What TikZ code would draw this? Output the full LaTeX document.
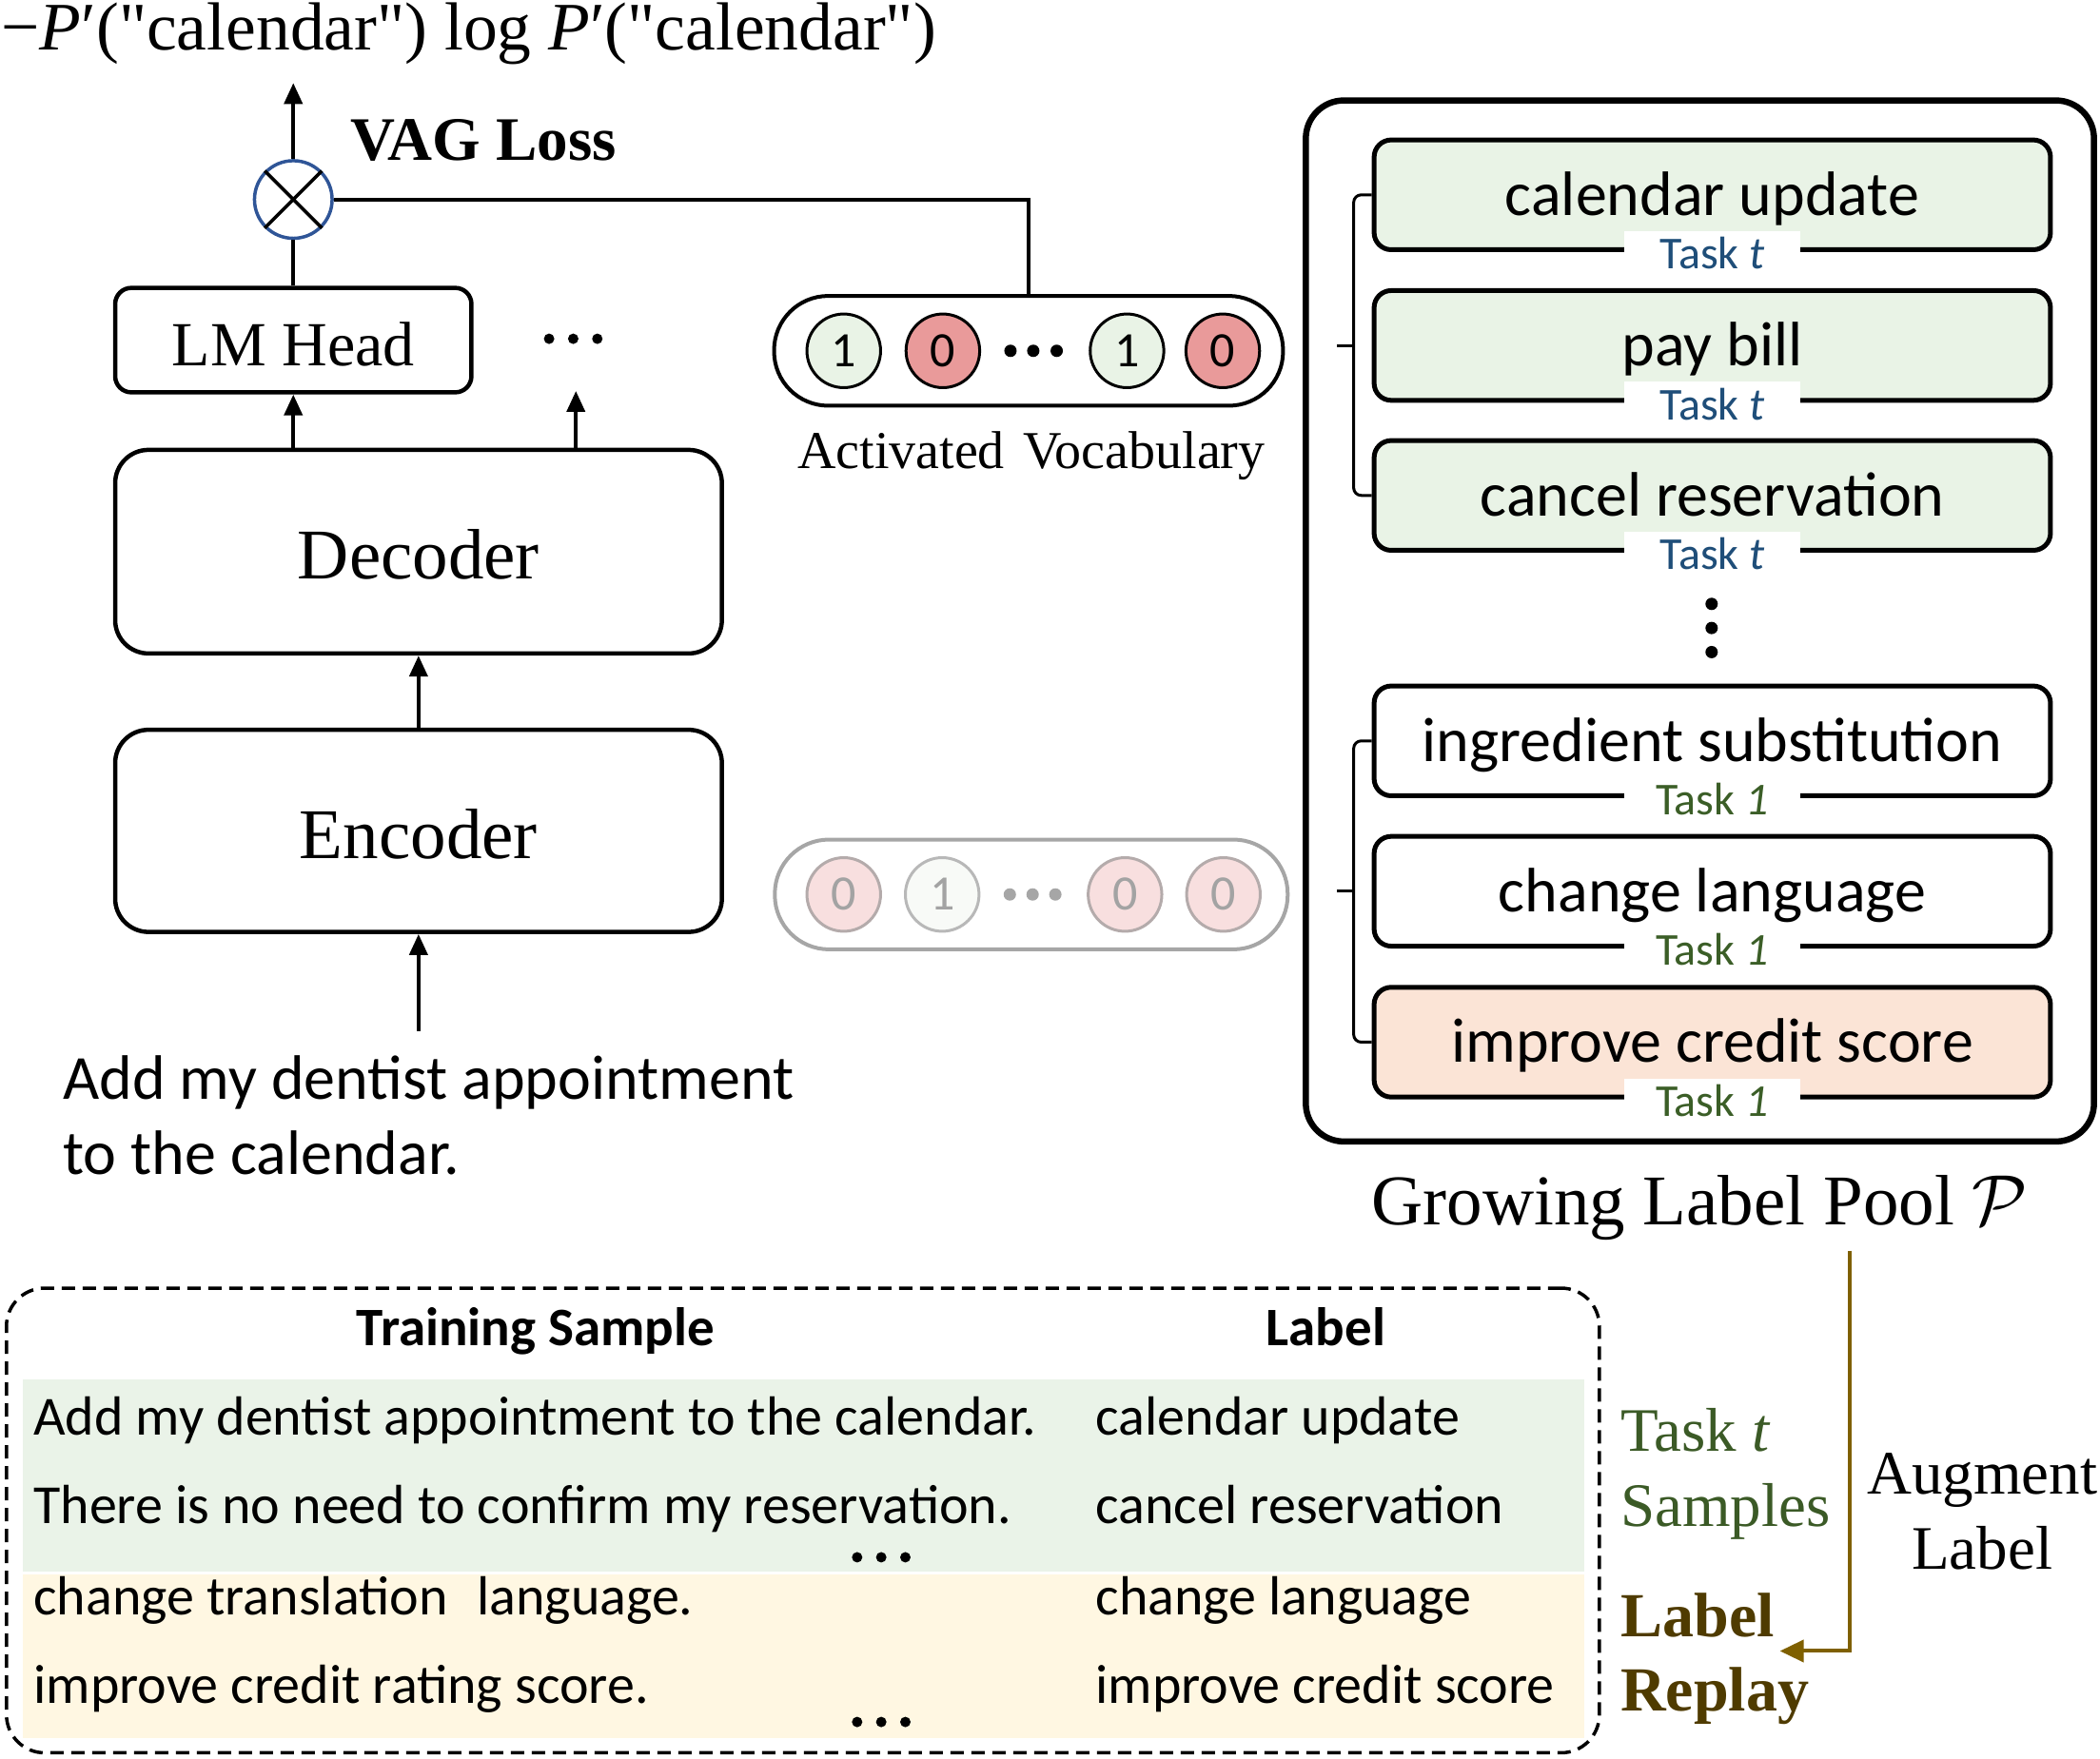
\RequirePackage{fix-cm}
\documentclass[tikz,border=0pt]{standalone}
\usepackage{fontspec}
\setmainfont{Liberation Serif}
\newfontfamily\plainserif{Liberation Serif}[Ligatures=TeXOff]
\newfontfamily\cali{Carlito}
\usetikzlibrary{arrows.meta,calc}
\definecolor{lgreen}{HTML}{E9F3E6}
\definecolor{lred}{HTML}{E99A9A}
\definecolor{peach}{HTML}{FBE4D6}
\definecolor{tgreen}{HTML}{EAF3E8}
\definecolor{tyellow}{HTML}{FFF7E2}
\definecolor{brownarr}{HTML}{7F6000}
\definecolor{brownt}{HTML}{4F3B00}
\definecolor{darkgreen}{HTML}{3B5A26}
\definecolor{taskblue}{HTML}{1F4E79}
\definecolor{taskgreen}{HTML}{3B5E27}
\definecolor{otimesblue}{HTML}{2F5597}
\definecolor{greyline}{HTML}{A6A6A6}
\definecolor{greycirc}{HTML}{B4ABAB}
\definecolor{greyfill}{HTML}{F8DFDF}
\definecolor{greyfillg}{HTML}{F8FAF7}
\definecolor{greytext}{HTML}{A3A3A3}
\newcommand{\myfs}[1]{\fontsize{#1}{#1}\selectfont}
\begin{document}
\begin{tikzpicture}[x=1.4075pt,y=-1.4075pt,
  arr/.style={line width=4pt,-{Triangle[length=22pt,width=19pt]}},
  conn/.style={line width=4pt},
  txt/.style={inner sep=0pt},
  modbox/.style={draw,line width=4.5pt,rounded corners=35pt,inner sep=0pt,minimum width=637.6pt,text depth=0pt,font=\myfs{75}},
  lmbox/.style={draw,line width=4.5pt,rounded corners=17pt,inner sep=0pt,minimum width=374.4pt,minimum height=109.8pt,text height=53.5pt,text depth=0pt,font=\myfs{66}},
  otimes/.style={circle,draw=otimesblue,line width=3.5pt,minimum size=81.6pt,inner sep=0pt},
  pill/.style={draw,line width=4pt,rounded corners=57pt,minimum width=534.9pt,minimum height=115.4pt,inner sep=0pt},
  vc/.style={circle,draw,line width=3pt,minimum size=77.4pt,inner sep=0pt,font=\cali\myfs{52}},
  labbox/.style={draw,line width=5pt,rounded corners=18pt,minimum width=710.8pt,minimum height=115.4pt,inner sep=0pt,text height=43pt,text depth=0pt,font=\cali\myfs{66}},
  tasktag/.style={fill=white,minimum width=185.8pt,minimum height=42.2pt,inner sep=0pt,text height=38pt,text depth=0pt,font=\cali\myfs{48}},
  brk/.style={line width=3pt,rounded corners=8pt},
  cell/.style={anchor=base west,inner sep=0pt,font=\cali\myfs{58}},
  head/.style={anchor=base,inner sep=0pt,font=\cali\bfseries\myfs{57}}
]
\useasboundingbox (0,0) rectangle (1568,1313);

% ---------- loss ----------
\node[txt,anchor=base west,font=\plainserif\myfs{71.5}] (loss) at (1,37) {−\textit{P}′("calendar") log \textit{P}′("calendar")};
\node[txt,anchor=base west,font=\bfseries\myfs{65}] (vag) at (262,120) {VAG Loss};
\node[otimes] (ot) at (219,149) {};
\draw[line width=3.5pt] (ot.north west) -- (ot.south east) (ot.north east) -- (ot.south west);
\coordinate (lossin) at (219,62);
\draw[arr] (ot.north) -- (lossin);

% ---------- model ----------
\node[lmbox] (lm) at (219,254) {LM Head};
\node[modbox,minimum height=214pt,text height=56.3pt] (dec) at (312.5,412) {Decoder};
\node[modbox,minimum height=212.5pt,text height=57.7pt] (enc) at (312.5,620.5) {Encoder};
\draw[conn] (lm.north) -- (ot.south);
\draw[arr] (lm.south |- dec.north) -- (lm.south);
\coordinate (dd0) at (430,336);
\coordinate (dd1) at (430,292);
\draw[arr] (dd0) -- (dd1);
\foreach \x in {410,428,446} \fill (\x,253) circle[radius=5.5pt];
\draw[arr] (enc.north) -- (dec.south);
\coordinate (inp) at (312.5,770);
\draw[arr] (inp) -- (enc.south);
\node[txt,anchor=base west,font=\cali\myfs{66}] (in1) at (47,821) {Add my dentist appointment};
\node[txt,anchor=base west,font=\cali\myfs{66}] (in2) at (47,877) {to the calendar.};

% ---------- activated vocabulary ----------
\node[pill] (vp) at (768,262) {};
\node[vc,fill=lgreen] (v1) at (630,262) {1};
\node[vc,fill=lred] (v2) at (704,262) {0};
\node[vc,fill=lgreen] (v3) at (841.5,262) {1};
\node[vc,fill=lred] (v4) at (913,262) {0};
\foreach \x in {754.5,771.5,789} \fill (\x,262) circle[radius=6.5pt];
\draw[conn] (ot.east) -| (vp.north);
\node[txt,anchor=base,font=\myfs{56}] (avl) at (770,350) {Activated\hspace{0.35em}Vocabulary};

% ---------- grey vocabulary ----------
\node[pill,draw=greyline,minimum width=539pt] (gp) at (770,668) {};
\node[vc,draw=greycirc,fill=greyfill,text=greytext] (g1) at (630,668) {0};
\node[vc,draw=greyline!80,fill=greyfillg,text=greytext] (g2) at (703.5,668) {1};
\node[vc,draw=greycirc,fill=greyfill,text=greytext] (g3) at (840,668) {0};
\node[vc,draw=greycirc,fill=greyfill,text=greytext] (g4) at (913.5,668) {0};
\foreach \x in {754,771,788} \fill[greyline] (\x,668) circle[radius=6.5pt];

% ---------- label pool ----------
\node[draw,line width=6.5pt,rounded corners=40pt,minimum width=828.3pt,minimum height=1094.3pt,inner sep=0pt] (pool) at (1269.25,463.75) {};
\node[labbox,fill=lgreen] (lb1) at (1278.5,145.5) {calendar update};
\node[labbox,fill=lgreen] (lb2) at (1278.5,258) {pay bill};
\node[labbox,fill=lgreen] (lb3) at (1278.5,370) {cancel reservation};
\node[labbox] (lb4) at (1278.5,553.3) {ingredient substitution};
\node[labbox] (lb5) at (1278.5,665.6) {change language};
\node[labbox,fill=peach] (lb6) at (1278.5,778.3) {improve credit score};
\node[tasktag,text=taskblue] (tg1) at (1278.5,187.5) {Task \textit{t}};
\node[tasktag,text=taskblue] (tg2) at (1278.5,300) {Task \textit{t}};
\node[tasktag,text=taskblue] (tg3) at (1278.5,412) {Task \textit{t}};
\node[tasktag,text=taskgreen] (tg4) at (1278.5,595.3) {Task \textit{1}};
\node[tasktag,text=taskgreen] (tg5) at (1278.5,707.6) {Task \textit{1}};
\node[tasktag,text=taskgreen] (tg6) at (1278.5,820.3) {Task \textit{1}};
\foreach \y in {451,469,487} \fill (1278,\y) circle[radius=6.5pt];
\draw[brk] (lb1.west) -- ++(-13.5,0) |- (lb3.west);
\draw[brk] ($(lb2.west)+(-13.5,0)$) -- ++(-12.5,0);
\draw[brk] (lb4.west) -- ++(-13.5,0) |- (lb6.west);
\draw[brk] ($(lb5.west)+(-13.5,0)$) -- ++(-12.5,0);
\node[txt,anchor=base,font=\myfs{75}] (glp) at (1269,915) {Growing Label Pool $\mathcal{P}$};

% ---------- training table ----------
\fill[tgreen] (17,1030) rectangle (1183,1174);
\fill[tyellow] (17,1176) rectangle (1183,1298);
\node[draw,line width=3.5pt,dash pattern=on 14pt off 8pt,rounded corners=40pt,minimum width=1674pt,minimum height=488.4pt,inner sep=0pt] (tb) at (599.5,1135.5) {};
\node[head] (h1) at (400,1005) {Training Sample};
\node[head] (h2) at (990,1005) {Label};
\node[cell] (r1a) at (25,1071.6) {Add my dentist appointment to the calendar.};
\node[cell] (r1b) at (818,1071.6) {calendar update};
\node[cell] (r2a) at (25,1138) {There is no need to confirm my reservation.};
\node[cell] (r2b) at (818,1138) {cancel reservation};
\node[cell] (r3a) at (25,1206) {change translation\hspace{0.3em} language.};
\node[cell] (r3b) at (818,1206) {change language};
\node[cell] (r4a) at (25,1272) {improve credit rating score.};
\node[cell] (r4b) at (818,1272) {improve credit score};
\foreach \x in {640,658,676} {\fill (\x,1163) circle[radius=5.5pt]; \fill (\x,1286) circle[radius=5.5pt];}

% ---------- right side labels ----------
\node[txt,anchor=base west,font=\myfs{65},text=darkgreen] (ts1) at (1210,1083.5) {Task \textit{t}};
\node[txt,anchor=base west,font=\myfs{65},text=darkgreen] (ts2) at (1210,1140) {Samples};
\node[txt,anchor=base west,font=\bfseries\myfs{66},text=brownt] (lr1) at (1210,1222) {Label};
\node[txt,anchor=base west,font=\bfseries\myfs{66},text=brownt] (lr2) at (1210,1278) {Replay};
\node[txt,anchor=base,font=\myfs{65}] (au1) at (1480,1116) {Augment};
\node[txt,anchor=base,font=\myfs{65}] (au2) at (1480,1172) {Label};
\coordinate (aug0) at (1381,934);
\coordinate (aug1) at (1329,1233);
\draw[line width=4pt,draw=brownarr,-{Triangle[length=25pt,width=23pt]}] (aug0) |- (aug1);
\end{tikzpicture}
\end{document}
